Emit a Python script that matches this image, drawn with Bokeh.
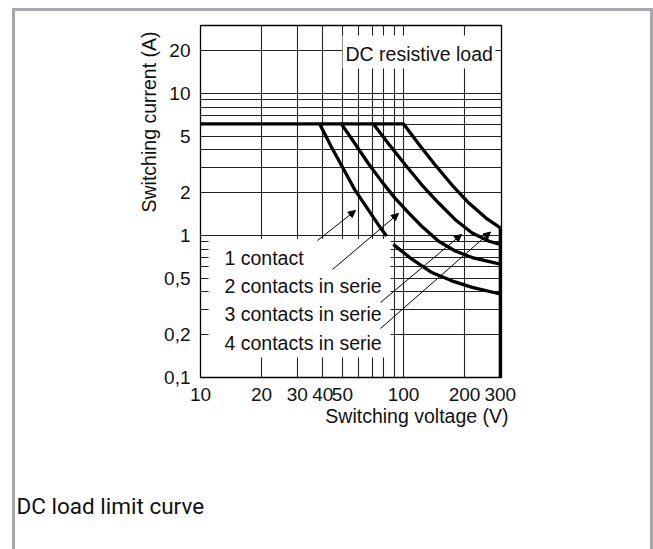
from math import log10, pi

from bokeh.plotting import figure
from bokeh.models import (FixedTicker, CustomJSTickFormatter, Label, BoxAnnotation,
                          Arrow, NormalHead, Range1d)
from bokeh.embed import file_html
from bokeh.resources import INLINE

# ---------------- data ----------------
voltage_ticks = [10, 20, 30, 40, 50, 100, 200, 300]
current_ticks = [0.1, 0.2, 0.5, 1, 2, 5, 10, 20]
voltage_grid = [20, 30, 40, 50, 60, 70, 80, 90, 100, 200]
current_grid = [0.2, 0.3, 0.4, 0.5, 0.6, 0.7, 0.8, 0.9, 1, 2, 3, 4, 5, 6, 7, 8, 9, 10, 20]

# 4 contacts in serie (includes the common current plateau)
v_4 = [10, 100, 118, 143, 173, 210, 254, 300]
i_4 = [6.1, 6.1, 4.45, 3.14, 2.27, 1.69, 1.33, 1.13]
# 3 contacts in serie
v_3 = [71, 84, 102, 123, 149, 180, 218, 264, 300]
i_3 = [6.1, 4.45, 3.14, 2.27, 1.69, 1.29, 1.04, 0.91, 0.865]
# 2 contacts in serie
v_2 = [49.4, 57.5, 67, 78, 90.8, 106, 123, 149, 180, 218, 300]
i_2 = [6.1, 4.45, 3.22, 2.40, 1.83, 1.44, 1.16, 0.91, 0.777, 0.698, 0.627]
# 1 contact (two segments)
v_1a = [38.6, 44.1, 50.4, 57.5, 67, 75.1, 82.5]
i_1a = [6.1, 4.21, 2.97, 2.10, 1.52, 1.19, 0.99]
v_1b = [89.1, 110, 138, 173, 218, 300]
i_1b = [0.865, 0.68, 0.548, 0.479, 0.431, 0.387]
# maximum voltage limit
v_max = [300, 300]
i_max = [1.13, 0.1]

legend_texts = ["1 contact", "2 contacts in serie", "3 contacts in serie", "4 contacts in serie"]

# ---------------- layout ----------------
W, H = 653, 549
FL, FR, FT, FB = 200, 501, 25, 377          # frame edges, pixels
X_RANGE = (10, 304)
Y_RANGE = (0.1, 30)
TF = "Liberation Sans"
FS = 19.5
TICK_FS = "19px"
INK = "#111111"
GRAY = "#a6a8ad"


def xd(px):
    lo, hi = log10(X_RANGE[0]), log10(X_RANGE[1])
    return 10 ** (lo + (px - FL) / (FR - FL) * (hi - lo))


def yd(py):
    lo, hi = log10(Y_RANGE[0]), log10(Y_RANGE[1])
    return 10 ** (lo + (FB - py) / (FB - FT) * (hi - lo))


p = figure(width=W, height=H, x_axis_type="log", y_axis_type="log",
           x_range=Range1d(*X_RANGE), y_range=Range1d(*Y_RANGE),
           output_backend="svg", toolbar_location=None,
           min_border_left=FL, min_border_right=W - FR,
           min_border_top=FT, min_border_bottom=H - FB)
p.background_fill_color = "white"
p.border_fill_alpha = 0
p.outline_line_color = "black"
p.outline_line_width = 1.3
# page frame of the original picture (gray rule on top, left and right)
p.styles = {"box-shadow": (f"inset 0 8px 0 white, inset 12px 0 0 white, "
                           f"inset 15px 0 0 {GRAY}, inset 0 11px 0 {GRAY}, "
                           f"inset -3px 0 0 {GRAY}")}

fmt = "return String(tick).replace('.', ',')"
for ax in (p.xaxis[0], p.yaxis[0]):
    ax.axis_line_color = None
    ax.major_tick_line_color = None
    ax.minor_tick_line_color = None
    ax.major_tick_out = 0
    ax.minor_tick_out = 0
    ax.major_label_text_font = TF
    ax.major_label_text_font_size = TICK_FS
    ax.major_label_text_color = INK
    ax.formatter = CustomJSTickFormatter(code=fmt)
p.xaxis[0].ticker = FixedTicker(ticks=voltage_ticks)
p.yaxis[0].ticker = FixedTicker(ticks=current_ticks)
p.xaxis[0].major_label_standoff = 10
p.yaxis[0].major_label_standoff = 10

p.xgrid[0].ticker = FixedTicker(ticks=voltage_grid)
p.ygrid[0].ticker = FixedTicker(ticks=current_grid)
for g in (p.xgrid[0], p.ygrid[0]):
    g.grid_line_color = "#222222"
    g.grid_line_width = 1.1
    g.grid_line_alpha = 1.0

# curves
for xs, ys in [(v_4, i_4), (v_3, i_3), (v_2, i_2), (v_1a, i_1a), (v_1b, i_1b), (v_max, i_max)]:
    p.line(xs, ys, line_color="black", line_width=3.3, line_join="round")

# white boxes hiding the grid behind the annotations
for l, r, t, b in [(342, 495, 35, 68), (208, 390, 238.5, 357)]:
    p.add_layout(BoxAnnotation(left=xd(l), right=xd(r), top=yd(t), bottom=yd(b),
                               fill_color="white", fill_alpha=1.0,
                               line_color=None, line_alpha=0))


def lab(text, px, py, align="left", angle=0.0, font=TF, size=FS, color=INK, place="center"):
    shift = 0.41 * size          # renderer draws the alphabetic baseline this much lower
    if angle:
        px -= shift
    else:
        py -= shift
    p.add_layout(Label(x=xd(px), y=yd(py), text=text, text_align=align,
                       text_baseline="alphabetic", angle=angle,
                       text_font=font, text_font_size=f"{size}px", text_color=color), place)


lab("DC resistive load", 345, 61)
for k, t in enumerate(legend_texts):
    lab(t, 224, 265 + 28.4 * k)
lab("Switching current (A)", 156, 31, align="right", angle=pi / 2, place="left")
lab("Switching voltage (V)", 508, 423, align="right", place="below")
lab("DC load limit curve", 16, 515, font="Roboto", size=22.5, place="below")

# arrows from the labels to the curves
for (x0, y0, x1, y1) in [(317, 240, 355, 210), (332, 269, 398, 213),
                         (380, 302, 461, 234), (380, 328, 490, 231.5)]:
    p.add_layout(Arrow(end=NormalHead(size=7, fill_color="black", line_color="black",
                                      line_width=1),
                       x_start=xd(x0), y_start=yd(y0), x_end=xd(x1), y_end=yd(y1),
                       line_color="black", line_width=1.0))

open("out.html", "w").write(file_html(p, INLINE))
